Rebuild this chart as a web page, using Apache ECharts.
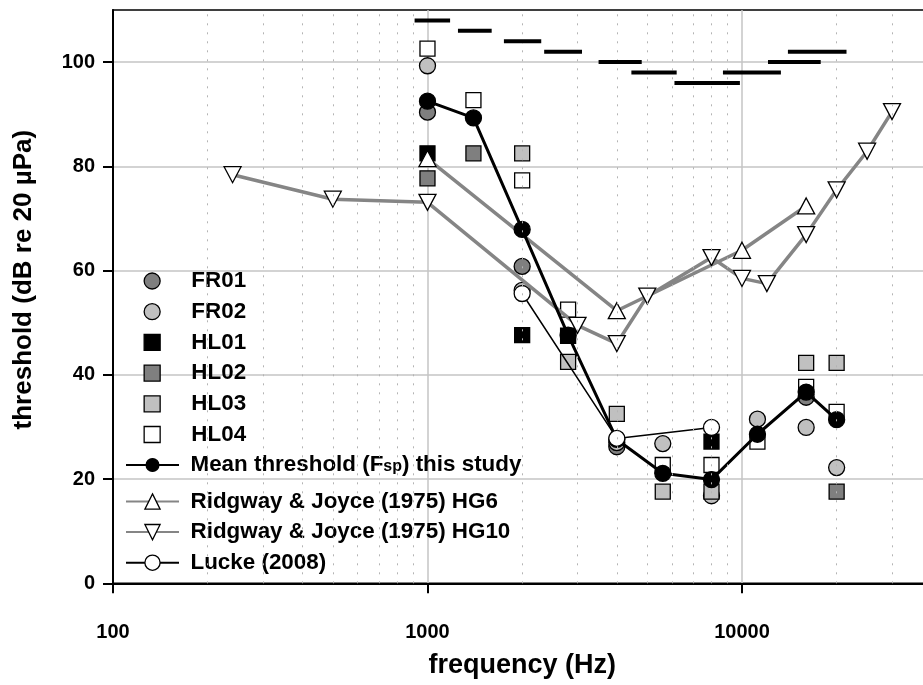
<!DOCTYPE html>
<html><head><meta charset="utf-8">
<script src="https://cdn.jsdelivr.net/npm/echarts@6/dist/echarts.min.js"></script>
<style>html,body{margin:0;padding:0;background:#fff}#c{width:923px;height:685px}</style>
</head><body><div id="c"></div>
<script>
const FONT = "'Liberation Sans', Arial, Helvetica, sans-serif";
// frequency (Hz) / threshold (dB re 20 µPa)
const fr01Freq = [1000, 2000, 4000, 16000];
const fr01Val  = [90.4, 60.8, 26.2, 35.7];
const fr02Freq = [1000, 2000, 4000, 5600, 8000, 11200, 16000, 20000];
const fr02Val  = [99.3, 56.2, 27.0, 26.8, 16.8, 31.5, 29.9, 22.2];
const hl01Freq = [1000, 2000, 2800, 8000];
const hl01Val  = [82.5, 47.6, 47.5, 27.2];
const hl02Freq = [1000, 1400, 20000];
const hl02Val  = [77.7, 82.5, 17.6];
const hl03Freq = [2000, 2800, 4000, 5600, 8000, 16000, 20000];
const hl03Val  = [82.5, 42.5, 32.5, 17.6, 17.6, 42.3, 42.3];
const hl04Freq = [1000, 1400, 2000, 2800, 5600, 8000, 11200, 16000, 20000];
const hl04Val  = [102.6, 92.7, 77.3, 52.5, 22.7, 22.7, 27.2, 37.7, 32.9];
const meanFreq = [1000, 1400, 2000, 2800, 4000, 5600, 8000, 11200, 16000, 20000];
const meanVal  = [92.5, 89.3, 67.9, 47.6, 27.6, 21.1, 19.9, 28.6, 36.7, 31.4];
const hg6Freq  = [1000, 4000, 10000, 16000];
const hg6Val   = [81.5, 52.3, 63.9, 72.4];
const hg10Freq = [240, 500, 1000, 3000, 4000, 5000, 8000, 10000, 12000, 16000, 20000, 25000, 30000];
const hg10Val  = [78.4, 73.7, 73.1, 49.5, 46.0, 55.1, 62.5, 58.5, 57.5, 66.9, 75.5, 82.9, 90.5];
const luckeFreq = [2000, 4000, 8000];
const luckeVal  = [55.6, 27.8, 29.9];
// horizontal reference bands (start Hz, end Hz, level dB)
const bandStart = [910, 1250, 1750, 2350, 3500, 4450, 6100, 8700, 12100, 14000];
const bandEnd   = [1180, 1600, 2300, 3100, 4800, 6200, 9850, 13300, 17800, 21500];
const bandLevel = [108, 106, 104, 102, 100, 98, 96, 98, 100, 102];
// axis ticks
const xTickLabels = [100, 1000, 10000];
const yTickLabels = [0, 20, 40, 60, 80, 100];
const minorFreqs = [200, 300, 400, 500, 600, 700, 800, 900, 2000, 3000, 4000, 5000, 6000, 7000, 8000, 9000, 20000, 30000];

const MEAN = 'Mean threshold (Fsp) this study';
const HG6 = 'Ridgway & Joyce (1975) HG6';
const HG10 = 'Ridgway & Joyce (1975) HG10';
const LUCKE = 'Lucke (2008)';
const SQUARE = 'path://M0,0H10V10H0Z';
const DOWN = 'path://M0,0L10,0L5,9Z';

function pts(f, v) { return f.map((x, i) => [x, v[i]]); }
function scatter(name, f, v, color, symbol) {
  return {
    type: 'scatter', name, data: pts(f, v), symbol: symbol,
    symbolSize: symbol === 'circle' ? 16 : 15,
    itemStyle: { color, borderColor: '#000', borderWidth: 1.3, opacity: 1 },
    z: 3
  };
}
function lineSeries(name, f, v, lineColor, lineWidth, symbol, size, fill) {
  return {
    type: 'line', name, data: pts(f, v), symbol, symbolSize: size, showSymbol: true,
    lineStyle: { color: lineColor, width: lineWidth },
    itemStyle: { color: fill, borderColor: '#000', borderWidth: 1.3 },
    z: 4
  };
}

const chart = echarts.init(document.getElementById('c'), null, { renderer: 'canvas' });
const labelStyle = { fontFamily: FONT, fontWeight: 'bold', color: '#000' };
function legendText(padLeft) {
  return Object.assign({ fontSize: 22.4, lineHeight: 20, padding: [0, 0, 0, padLeft],
    rich: { sub: { fontFamily: FONT, fontWeight: 'bold', color: '#000', fontSize: 16, lineHeight: 16, verticalAlign: 'bottom', padding: [11, 0, 0, 0] } } }, labelStyle);
}
const legendBase = {
  orient: 'vertical', left: 120, itemWidth: 53, itemHeight: 16, itemGap: 8.7,
  selectedMode: false,
  itemStyle: { borderWidth: 1.3, borderColor: '#000' },
  textStyle: legendText(6.5),
  formatter: name => name === MEAN ? 'Mean threshold (F{sub|sp}) this study' : name
};

chart.setOption({
  animation: false,
  backgroundColor: '#fff',
  grid: { left: 113, top: 10, right: -8.3, bottom: 101.7, show: true, borderColor: '#000', borderWidth: 1.5, backgroundColor: 'transparent', outerBoundsMode: 'none' },
  xAxis: {
    type: 'log', logBase: 10, min: 100, max: 40000,
    axisLine: { show: true, onZero: false, lineStyle: { color: '#000', width: 2 } },
    axisTick: { show: true, length: 10, lineStyle: { color: '#000', width: 2 } },
    axisLabel: Object.assign({ fontSize: 20, margin: 39, showMaxLabel: false,
      formatter: v => (xTickLabels.indexOf(Math.round(v)) >= 0 ? String(Math.round(v)) : '') }, labelStyle),
    splitLine: { show: true, lineStyle: { color: '#c4c4c4', width: 1.5 } },
    name: 'frequency (Hz)', nameLocation: 'middle', nameGap: 69,
    nameTextStyle: Object.assign({ fontSize: 27 }, labelStyle)
  },
  yAxis: {
    type: 'value', min: 0, max: 110, interval: 20,
    axisLine: { show: true, lineStyle: { color: '#000', width: 2 } },
    axisTick: { show: true, length: 10, lineStyle: { color: '#000', width: 2 }, customValues: yTickLabels },
    axisLabel: Object.assign({ fontSize: 20, margin: 18, customValues: yTickLabels }, labelStyle),
    splitLine: { show: true, lineStyle: { color: '#c4c4c4', width: 1.5 } },
    name: 'threshold (dB re 20 µPa)', nameLocation: 'middle', nameGap: 76, nameRotate: 90,
    nameTextStyle: Object.assign({ fontSize: 26, padding: [0, 0, 0, 34] }, labelStyle)
  },
  legend: [
    Object.assign({}, legendBase, { top: 265, left: 138.5, itemWidth: 16, itemHeight: 16, textStyle: legendText(26.2), data: [
      { name: 'FR01' }, { name: 'FR02' },
      { name: 'HL01', icon: SQUARE }, { name: 'HL02', icon: SQUARE },
      { name: 'HL03', icon: SQUARE }, { name: 'HL04', icon: SQUARE }] }),
    Object.assign({}, legendBase, { top: 443, data: [{ name: MEAN }] }),
    Object.assign({}, legendBase, { top: 485.5, itemHeight: 19, itemGap: 8.6, data: [{ name: HG6 }, { name: HG10 }, { name: LUCKE }] })
  ],
  series: [
    {
      type: 'line', name: 'minor', data: [], silent: true, z: 1,
      markLine: { silent: true, symbol: ['none', 'none'], label: { show: false },
        lineStyle: { type: [2, 7], color: '#b4b4b4', width: 1 },
        emphasis: { disabled: true },
        data: minorFreqs.map(f => ({ xAxis: f })) }
    },
    {
      type: 'custom', name: 'bands', silent: true, z: 5,
      data: bandStart.map((s, i) => [s, bandEnd[i], bandLevel[i]]),
      encode: { x: [0, 1], y: 2 },
      renderItem: (params, api) => {
        const p1 = api.coord([api.value(0), api.value(2)]);
        const p2 = api.coord([api.value(1), api.value(2)]);
        return { type: 'line', shape: { x1: p1[0], y1: p1[1], x2: p2[0], y2: p2[1] }, style: { stroke: '#000', lineWidth: 4 } };
      }
    },
    scatter('FR01', fr01Freq, fr01Val, '#7f7f7f', 'circle'),
    scatter('FR02', fr02Freq, fr02Val, '#c0c0c0', 'circle'),
    scatter('HL01', hl01Freq, hl01Val, '#000000', 'rect'),
    scatter('HL02', hl02Freq, hl02Val, '#7f7f7f', 'rect'),
    scatter('HL03', hl03Freq, hl03Val, '#c0c0c0', 'rect'),
    scatter('HL04', hl04Freq, hl04Val, '#ffffff', 'rect'),
    lineSeries(HG10, hg10Freq, hg10Val, '#858585', 3.5, DOWN, [17, 16], '#ffffff'),
    lineSeries(HG6, hg6Freq, hg6Val, '#858585', 3.5, 'triangle', [17, 16], '#ffffff'),
    lineSeries(MEAN, meanFreq, meanVal, '#000000', 3, 'circle', 16, '#000000'),
    lineSeries(LUCKE, luckeFreq, luckeVal, '#000000', 1.5, 'circle', 16, '#ffffff')
  ]
});
</script></body></html>
